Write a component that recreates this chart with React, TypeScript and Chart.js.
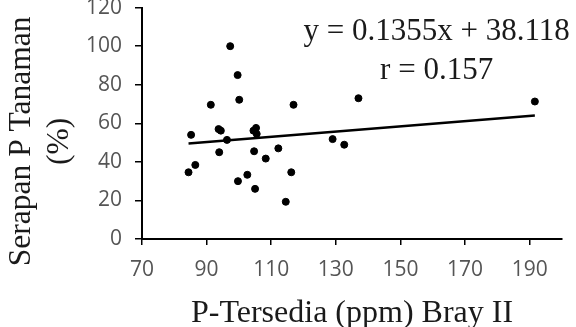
import React, { useEffect, useRef } from "react";
import { Chart, registerables } from "chart.js";

Chart.register(...registerables);

const pTersedia = [84.4, 86.5, 85.2, 91.3, 93.7, 94.4, 93.9, 96.3, 97.3, 99.6, 100.1, 99.7, 102.6, 104.5, 105.3, 105.5, 104.7, 105, 108.3, 112.2, 114.5, 116.2, 116.9, 137, 129, 132.6, 191.6];
const serapanP = [34.6, 38.4, 54, 69.6, 57, 56.2, 45, 51.4, 100, 85, 72.2, 30, 33.3, 56.2, 57.6, 54.5, 45.5, 26, 41.7, 47, 19.3, 34.6, 69.6, 73, 51.8, 48.9, 71.3];
const slope = 0.1355;
const intercept = 38.118;
const xTicks = [70, 90, 110, 130, 150, 170, 190];
const yTicks = [0, 20, 40, 60, 80, 100, 120];
const annotationLines = ["y = 0.1355x + 38.118", "r = 0.157"];
const annotationX = [161.2, 161.2];
const annotationY = [103.2, 83.0];
const yTitleLines = ["Serapan P Tanaman", "(%)"];

const serif = "'Liberation Serif', 'Times New Roman', serif";
const sans = "'Open Sans', sans-serif";

export default function App() {
  const ref = useRef<HTMLCanvasElement | null>(null);
  useEffect(() => {
    if (!ref.current) return;
    const points = pTersedia.map((x, i) => ({ x, y: serapanP[i] }));
    const xmin = Math.min(...pTersedia);
    const xmax = Math.max(...pTersedia);
    const trend = [
      { x: xmin, y: slope * xmin + intercept },
      { x: xmax, y: slope * xmax + intercept },
    ];
    const textPlugin = {
      id: "eqText",
      afterDatasetsDraw(chart: any) {
        const { ctx, scales, chartArea } = chart;
        ctx.save();
        ctx.font = `31px ${serif}`;
        ctx.fillStyle = "#1a1a1a";
        ctx.textAlign = "center";
        ctx.textBaseline = "alphabetic";
        annotationLines.forEach((t, i) => {
          ctx.fillText(t, scales.x.getPixelForValue(annotationX[i]), scales.y.getPixelForValue(annotationY[i]));
        });
        // y-axis title (two lines, rotated)
        const cy = (chartArea.top + chartArea.bottom) / 2 + 18;
        ctx.font = `31.5px ${serif}`;
        ctx.textBaseline = "middle";
        yTitleLines.forEach((t, i) => {
          ctx.save();
          ctx.translate(22 + i * 38, cy);
          ctx.rotate(-Math.PI / 2);
          ctx.fillText(t, 0, 0);
          ctx.restore();
        });
        ctx.restore();
      },
    };
    const chart = new Chart(ref.current, {
      type: "scatter",
      data: {
        datasets: [
          {
            data: points,
            backgroundColor: "#000",
            borderColor: "#000",
            pointRadius: 3.5,
            pointHoverRadius: 3.5,
          },
          {
            type: "line",
            data: trend,
            borderColor: "#000",
            borderWidth: 2.5,
            pointRadius: 0,
            showLine: true,
            fill: false,
          } as any,
        ],
      },
      options: {
        animation: false,
        responsive: true,
        maintainAspectRatio: false,
        layout: { padding: { left: 0, right: 14, top: 0, bottom: 0 } },
        plugins: { legend: { display: false }, tooltip: { enabled: false } },
        scales: {
          x: {
            type: "linear",
            min: 70,
            max: 200,
            afterBuildTicks: (axis: any) => {
              axis.ticks = xTicks.map((v) => ({ value: v }));
            },
            afterFit: (axis: any) => {
              axis.height = 92;
            },
            grid: { drawOnChartArea: false, drawTicks: true, tickLength: 6, color: "#000", lineWidth: 1.5 },
            border: { color: "#000", width: 2 },
            ticks: { color: "#555", font: { family: sans, size: 21 }, padding: 12, maxRotation: 0 },
            title: {
              display: true,
              text: "P-Tersedia (ppm) Bray II",
              color: "#1a1a1a",
              font: { family: serif, size: 32, lineHeight: 1.0 },
              padding: { top: 10, bottom: 1 },
            },
          },
          y: {
            type: "linear",
            min: 0,
            max: 120,
            afterBuildTicks: (axis: any) => {
              axis.ticks = yTicks.map((v) => ({ value: v }));
            },
            afterFit: (axis: any) => {
              axis.width = 142;
            },
            grid: { drawOnChartArea: false, drawTicks: true, tickLength: 7, color: "#000", lineWidth: 1.5 },
            border: { color: "#000", width: 2 },
            ticks: { color: "#555", font: { family: sans, size: 21 }, padding: 13 },
            title: { display: false },
          },
        },
      },
      plugins: [textPlugin],
    });
    return () => chart.destroy();
  }, []);
  return (
    <div style={{ position: "absolute", left: 0, top: -18, width: 576, height: 349 }}>
      <canvas ref={ref} />
    </div>
  );
}
